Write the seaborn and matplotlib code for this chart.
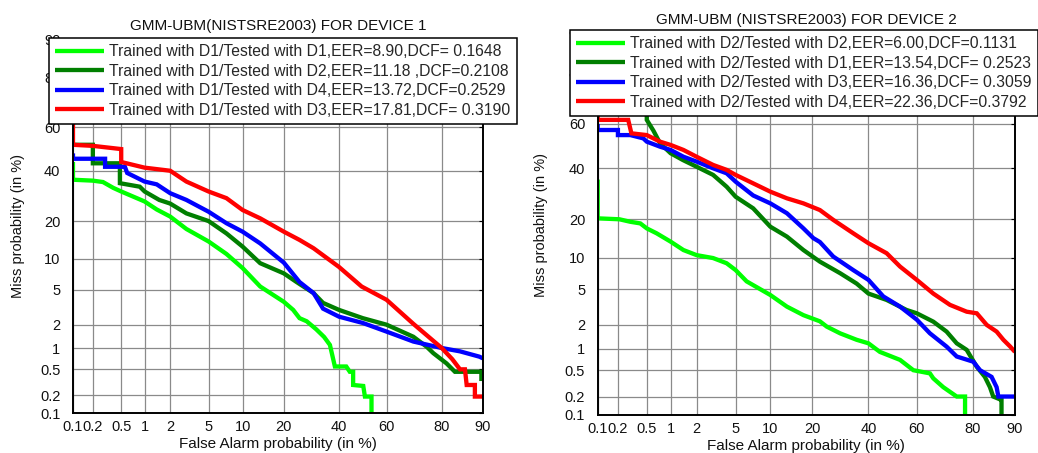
import numpy as np
import pandas as pd
import seaborn as sns
import matplotlib
matplotlib.use("Agg")
import matplotlib.pyplot as plt
from statistics import NormalDist

sns.set_theme(style="white")
plt.rcParams["font.family"] = ["Liberation Sans", "DejaVu Sans"]

# ---- DET curve data (false alarm %, miss %) ----
# Device 1 model
dev1_d1_fa = [0.1, 0.1, 0.2, 0.28, 0.39, 0.5, 1, 1.4, 2, 3, 5, 7.3, 10, 13.7, 20, 22.9, 25, 27.5,
              31, 34, 36.3, 38.3, 43, 44.5, 45.9, 45.9, 50.2, 50.9, 53.7, 53.7]
dev1_d1_miss = [44, 36, 35.6, 35, 32.5, 31, 27, 24, 21.5, 17.5, 14, 11, 8.2, 5.4, 3.7, 3.0, 2.4, 2.2,
                1.75, 1.4, 1.1, 0.55, 0.55, 0.46, 0.46, 0.29, 0.28, 0.19, 0.19, 0.1]

dev1_d2_fa = [0.1, 0.2, 0.2, 0.48, 0.48, 0.87, 1, 1.5, 2, 3, 5, 7.3, 10, 13.7, 20, 24, 30, 33.6,
              40, 50, 60, 70.5, 75.2, 77.4, 81.4, 83.7, 89.7, 89.7, 90]
dev1_d2_miss = [52, 52, 43.4, 43.4, 34.5, 33, 31, 27.6, 26.2, 22.6, 20, 16.2, 12.7, 9.1, 7.3, 6.0, 4.6, 3.6,
                3.0, 2.4, 2.0, 1.41, 1.04, 0.85, 0.61, 0.46, 0.46, 0.36, 0.36]

dev1_d4_fa = [0.1, 0.1, 0.3, 0.3, 0.56, 0.6, 1, 1.4, 2, 3, 5, 7.3, 10, 13.7, 20, 25, 30, 33.6,
              40, 50, 60, 70.5, 80, 85, 89.3, 90]
dev1_d4_miss = [48, 45.5, 45.5, 41.8, 41.8, 39, 35.2, 34, 30.3, 27.6, 23.2, 19.3, 16.7, 13.5, 9.2, 6.0, 4.6, 3.1,
                2.5, 2.1, 1.64, 1.22, 1.0, 0.9, 0.76, 0.72]

dev1_d3_fa = [0.1, 0.1, 0.2, 0.5, 0.5, 1, 2, 3, 5, 7.3, 10, 13.7, 20, 25, 30, 40, 49.5, 60,
              70.5, 80, 83, 85, 86.2, 86.6, 88.4, 88.4, 90]
dev1_d3_miss = [80, 52, 51.5, 50, 44, 41.4, 40, 35.2, 31, 28.3, 23.8, 20.9, 16.7, 14.4, 12.3, 8.4, 5.4, 3.9,
                2.05, 1.0, 0.7, 0.5, 0.5, 0.29, 0.29, 0.19, 0.19]

# Device 2 model
dev2_d2_fa = [0.1, 0.1, 0.21, 0.3, 0.41, 0.5, 0.67, 1, 1.42, 2, 3, 4.1, 5, 6.3, 10, 13.4, 17.5, 22.3,
              24.5, 29.1, 35.3, 40, 44.7, 53.1, 58.6, 65.2, 66.5, 70.2, 74.9, 77.6, 77.6]
dev2_d2_miss = [35, 20.3, 20, 19.2, 18.7, 17.2, 15.8, 13.6, 11.6, 10.5, 9.9, 8.9, 7.7, 6.0, 4.35, 3.25, 2.6, 2.2,
                1.9, 1.57, 1.3, 1.17, 0.9, 0.7, 0.5, 0.45, 0.38, 0.28, 0.2, 0.2, 0.1]

dev2_d1_fa = [0.5, 0.5, 0.61, 0.74, 1, 1.4, 2, 3, 4.1, 5, 7.2, 10, 13.4, 17.5, 22.3, 29.1, 35.3, 40,
              47.5, 55.8, 60, 66.5, 71.4, 74.9, 78.1, 81.1, 83.3, 84.6, 85.4, 87, 87.3, 87.3]
dev2_d1_miss = [75, 61.8, 57, 51.3, 46.7, 43.6, 40.6, 37, 32, 28, 23.7, 17.7, 14.9, 11.6, 9.2, 7.2, 5.7, 4.5,
                3.85, 2.98, 2.73, 2.18, 1.65, 1.17, 0.96, 0.56, 0.4, 0.28, 0.2, 0.18, 0.18, 0.1]

dev2_d3_fa = [0.1, 0.1, 0.2, 0.2, 0.3, 0.45, 0.5, 0.74, 1, 1.42, 2, 3, 4.1, 5, 7.2, 10, 13.4, 17.5,
              20.3, 22.3, 26.7, 34, 40, 46.1, 53.1, 60, 65.2, 71.4, 74.9, 80.1, 82, 85, 86.2, 86.6, 90]
dev2_d3_miss = [60, 57.3, 57.3, 55, 55, 53.5, 52, 49.7, 48.2, 45.1, 42.9, 39.9, 37.7, 34.1, 28.5, 25.5, 22, 17.2,
                14.5, 13.5, 10.2, 7.7, 6.2, 4.2, 3.25, 2.3, 1.57, 1.06, 0.78, 0.66, 0.5, 0.4, 0.28, 0.2, 0.2]

dev2_d4_fa = [0.1, 0.1, 0.28, 0.31, 0.5, 0.74, 1, 1.42, 2, 3, 4.1, 5, 7.2, 10, 13.4, 17.5, 22.3, 26.7,
              34, 40, 47.5, 53.1, 60, 66.5, 72.6, 78.1, 81.1, 83.8, 86.2, 87.7, 89.1, 90]
dev2_d4_miss = [70, 61.8, 61.8, 55.8, 55, 52, 50.5, 48.2, 45.1, 41.4, 39.2, 37, 33.4, 30, 27.4, 25.5, 23.1, 19.8,
                15.8, 13.2, 10.9, 8.3, 6.2, 4.5, 3.4, 2.85, 2.73, 1.99, 1.65, 1.3, 1.06, 0.9]

dev1_labels = [
    "Trained with D1/Tested with D1,EER=8.90,DCF= 0.1648",
    "Trained with D1/Tested with D2,EER=11.18 ,DCF=0.2108",
    "Trained with D1/Tested with D4,EER=13.72,DCF=0.2529",
    "Trained with D1/Tested with D3,EER=17.81,DCF= 0.3190",
]
dev2_labels = [
    "Trained with D2/Tested with D2,EER=6.00,DCF=0.1131",
    "Trained with D2/Tested with D1,EER=13.54,DCF= 0.2523",
    "Trained with D2/Tested with D3,EER=16.36,DCF= 0.3059",
    "Trained with D2/Tested with D4,EER=22.36,DCF=0.3792",
]

tick_values = [0.1, 0.2, 0.5, 1, 2, 5, 10, 20, 40, 60, 80, 90]
tick_labels = ["0.1", "0.2", "0.5", "1", "2", "5", "10", "20", "40", "60", "80", "90"]

colors = ["#00ff00", "#007f00", "#0000ff", "#ff0000"]

# ---- normal-deviate (probit) axis scale ----
_nd = NormalDist()
_ppf = np.vectorize(_nd.inv_cdf, otypes=[float])
_cdf = np.vectorize(_nd.cdf, otypes=[float])


def probit_fwd(p):
    p = np.clip(np.asarray(p, dtype=float) / 100.0, 1e-9, 1 - 1e-9)
    return _ppf(p)


def probit_inv(z):
    return 100.0 * _cdf(np.asarray(z, dtype=float))


fig = plt.figure(figsize=(10.38, 4.53), dpi=100)
ax1 = fig.add_axes([0.0703, 0.0876, 0.395, 0.8252])
ax2 = fig.add_axes([0.5758, 0.0839, 0.402, 0.840])


def draw_panel(ax, curves, labels, title, title_pad, legend_anchor, ylab_x):
    for (fa, miss), color, label in zip(curves, colors, labels):
        df = pd.DataFrame({"fa": fa, "miss": miss})
        sns.lineplot(data=df, x="fa", y="miss", color=color, linewidth=3.1,
                     sort=False, estimator=None, label=label, ax=ax,
                     solid_joinstyle="miter", solid_capstyle="butt")
    ax.set_xscale("function", functions=(probit_fwd, probit_inv))
    ax.set_yscale("function", functions=(probit_fwd, probit_inv))
    ax.set_xlim(0.1, 90)
    ax.set_ylim(0.1, 90)
    ax.set_xticks(tick_values, tick_labels)
    ax.set_yticks(tick_values, tick_labels)
    ax.minorticks_off()
    ax.grid(True, color="#8a8a8a", linewidth=0.9)
    ax.set_axisbelow(True)
    for s in ax.spines.values():
        s.set_visible(True)
        s.set_color("black")
        s.set_linewidth(1.4)
    ax.tick_params(axis="both", direction="in", length=3, width=0.8, colors="black",
                   labelsize=10.5, labelcolor="#111111", right=True, top=True)
    ax.tick_params(axis="y", pad=9)
    ax.tick_params(axis="x", pad=5)
    ax.set_xlabel("False Alarm probability (in %)", fontsize=11, color="#111111")
    ax.set_ylabel("Miss probability (in %)", fontsize=10.5, color="#111111")
    ax.xaxis.set_label_coords(0.5, -0.063)
    ax.yaxis.set_label_coords(ylab_x, 0.5)
    ax.set_title(title, fontsize=11, pad=title_pad, color="#111111")
    leg = ax.legend(loc="upper left", bbox_to_anchor=legend_anchor,
                    bbox_transform=fig.transFigure, borderaxespad=0,
                    frameon=True, fancybox=False, framealpha=1, shadow=False,
                    edgecolor="black", fontsize=11.3, labelspacing=0.29,
                    borderpad=0.4, handlelength=3.1, handletextpad=0.35)
    leg.get_frame().set_linewidth(1.1)
    leg.set_zorder(10)


draw_panel(ax1,
           [(dev1_d1_fa, dev1_d1_miss), (dev1_d2_fa, dev1_d2_miss),
            (dev1_d4_fa, dev1_d4_miss), (dev1_d3_fa, dev1_d3_miss)],
           dev1_labels, "GMM-UBM(NISTSRE2003) FOR DEVICE 1", 7.2,
           (0.0472, 0.9161), -0.117)
draw_panel(ax2,
           [(dev2_d2_fa, dev2_d2_miss), (dev2_d1_fa, dev2_d1_miss),
            (dev2_d3_fa, dev2_d3_miss), (dev2_d4_fa, dev2_d4_miss)],
           dev2_labels, "GMM-UBM (NISTSRE2003) FOR DEVICE 2", 7.2,
           (0.5491, 0.9338), -0.119)

fig.savefig("out.png", dpi=100)
